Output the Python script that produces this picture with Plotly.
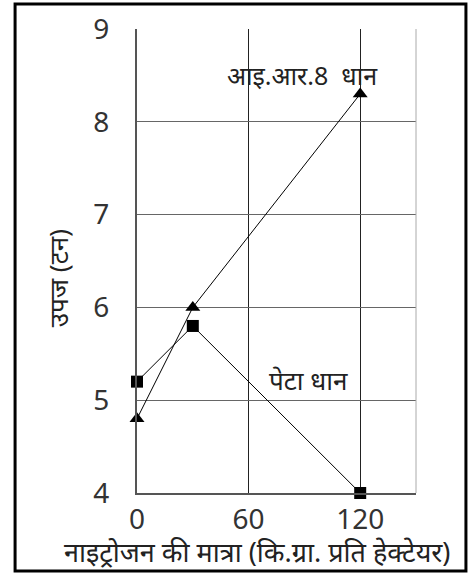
import plotly.graph_objects as go

# nitrogen dose (kg/ha) and yield (tonnes)
nitrogen = [0, 30, 120]
ir8_yield = [4.8, 6.0, 8.3]
peta_yield = [5.2, 5.8, 4.0]

x_ticks = [0, 60, 120]
y_ticks = [4, 5, 6, 7, 8, 9]

font_family = "Noto Sans, Liberation Sans, sans-serif"

fig = go.Figure()

fig.add_trace(go.Scatter(
    x=nitrogen, y=ir8_yield, mode="lines+markers", name="आइ.आर.8 धान",
    line=dict(color="black", width=1), cliponaxis=False,
    marker=dict(symbol="triangle-up", size=13, color="black")))

fig.add_trace(go.Scatter(
    x=nitrogen, y=peta_yield, mode="lines+markers", name="पेटा धान",
    line=dict(color="black", width=1), cliponaxis=False,
    marker=dict(symbol="square", size=12, color="black")))

fig.add_annotation(x=89, y=8.5, text="आइ.आर.8  धान", showarrow=False,
                   font=dict(size=25, color="#222", family=font_family))
fig.add_annotation(x=92, y=5.22, text="पेटा धान", showarrow=False,
                   font=dict(size=26, color="#222", family=font_family))

# axis titles
fig.add_annotation(xref="paper", yref="paper", x=0.43, y=-0.125,
                   xanchor="center", yanchor="middle",
                   text="नाइट्रोजन की मात्रा (कि.ग्रा. प्रति हेक्टेयर)", showarrow=False,
                   font=dict(size=27, color="#222", family=font_family))
fig.add_annotation(xref="paper", yref="paper", x=-0.283, y=0.463, textangle=-90,
                   xanchor="center", yanchor="middle",
                   text="उपज (टन)", showarrow=False,
                   font=dict(size=26, color="#222", family=font_family))

# outer frame
fig.add_shape(type="rect", xref="paper", yref="paper",
              x0=-0.437, x1=1.179, y0=-0.168, y1=1.054,
              line=dict(color="black", width=3))

fig.update_xaxes(
    range=[0, 150], tickvals=x_ticks, showgrid=True, gridcolor="#222", gridwidth=1,
    showline=True, linecolor="#555", linewidth=2, zeroline=False, automargin=False,
    ticks="", ticklabelstandoff=0, tickfont=dict(size=28, color="#333", family=font_family))

fig.update_yaxes(
    range=[4, 9], tickvals=y_ticks, showgrid=True, gridcolor="#666", gridwidth=1,
    showline=True, linecolor="#555", linewidth=2, zeroline=False, automargin=False,
    ticks="", ticklabelstandoff=20, tickfont=dict(size=28, color="#333", family=font_family))

# light right edge of the plot area
fig.add_shape(type="line", xref="paper", yref="paper", x0=1, x1=1, y0=0, y1=1,
              line=dict(color="#aaa", width=1))

fig.update_layout(
    width=473, height=573,
    margin=dict(l=137, r=57, t=29, b=80),
    plot_bgcolor="white", paper_bgcolor="white",
    showlegend=False)

fig.write_html("out.html", config={"displayModeBar": False},
               post_script="document.body.style.margin='0px';")
